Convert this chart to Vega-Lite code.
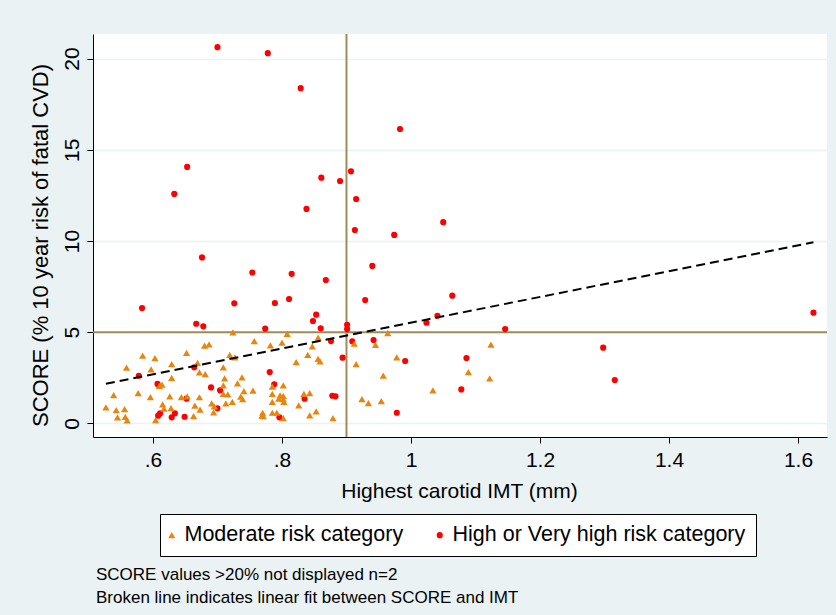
{
  "$schema": "https://vega.github.io/schema/vega-lite/v6.json",
  "width": 734,
  "height": 403,
  "autosize": {"type": "none"},
  "padding": {"left": 93, "top": 34, "right": 9, "bottom": 178},
  "background": "#EAF2F3",
  "config": {
    "view": {"stroke": null, "fill": "white"},
    "font": "Liberation Sans",
    "legend": {
      "orient": "none",
      "legendX": 67,
      "legendY": 480,
      "direction": "horizontal",
      "labelFontSize": 21.5,
      "labelColor": "black",
      "padding": 10,
      "strokeColor": "black",
      "fillColor": "white",
      "columnPadding": 32,
      "labelOffset": 2,
      "symbolOffset": -9,
      "symbolSize": 22,
      "labelLimit": 400
    }
  },
  "title": {
    "text": ["SCORE values >20% not displayed n=2", "Broken line indicates linear fit between SCORE and IMT"],
    "orient": "bottom",
    "anchor": "start",
    "frame": "group",
    "fontSize": 17,
    "fontWeight": "normal",
    "lineHeight": 23,
    "offset": 10,
    "dx": 3,
    "color": "black"
  },
  "datasets": {
    "pts": [
      {"imt": 0.700, "score": 20.63, "group": "High or Very high risk category"},
      {"imt": 0.778, "score": 20.30, "group": "High or Very high risk category"},
      {"imt": 0.829, "score": 18.38, "group": "High or Very high risk category"},
      {"imt": 0.983, "score": 16.14, "group": "High or Very high risk category"},
      {"imt": 0.653, "score": 14.06, "group": "High or Very high risk category"},
      {"imt": 0.633, "score": 12.58, "group": "High or Very high risk category"},
      {"imt": 0.861, "score": 13.47, "group": "High or Very high risk category"},
      {"imt": 0.890, "score": 13.29, "group": "High or Very high risk category"},
      {"imt": 0.907, "score": 13.82, "group": "High or Very high risk category"},
      {"imt": 0.915, "score": 12.30, "group": "High or Very high risk category"},
      {"imt": 0.838, "score": 11.76, "group": "High or Very high risk category"},
      {"imt": 1.050, "score": 11.03, "group": "High or Very high risk category"},
      {"imt": 0.913, "score": 10.60, "group": "High or Very high risk category"},
      {"imt": 0.974, "score": 10.33, "group": "High or Very high risk category"},
      {"imt": 0.676, "score": 9.10, "group": "High or Very high risk category"},
      {"imt": 0.940, "score": 8.63, "group": "High or Very high risk category"},
      {"imt": 0.754, "score": 8.27, "group": "High or Very high risk category"},
      {"imt": 0.815, "score": 8.20, "group": "High or Very high risk category"},
      {"imt": 0.868, "score": 7.86, "group": "High or Very high risk category"},
      {"imt": 1.064, "score": 7.00, "group": "High or Very high risk category"},
      {"imt": 0.929, "score": 6.76, "group": "High or Very high risk category"},
      {"imt": 0.726, "score": 6.58, "group": "High or Very high risk category"},
      {"imt": 0.789, "score": 6.60, "group": "High or Very high risk category"},
      {"imt": 0.811, "score": 6.82, "group": "High or Very high risk category"},
      {"imt": 0.583, "score": 6.32, "group": "High or Very high risk category"},
      {"imt": 0.853, "score": 5.96, "group": "High or Very high risk category"},
      {"imt": 0.848, "score": 5.61, "group": "High or Very high risk category"},
      {"imt": 1.041, "score": 5.90, "group": "High or Very high risk category"},
      {"imt": 1.024, "score": 5.52, "group": "High or Very high risk category"},
      {"imt": 0.667, "score": 5.46, "group": "High or Very high risk category"},
      {"imt": 0.678, "score": 5.32, "group": "High or Very high risk category"},
      {"imt": 0.774, "score": 5.19, "group": "High or Very high risk category"},
      {"imt": 0.860, "score": 5.21, "group": "High or Very high risk category"},
      {"imt": 0.901, "score": 5.40, "group": "High or Very high risk category"},
      {"imt": 0.901, "score": 5.17, "group": "High or Very high risk category"},
      {"imt": 1.146, "score": 5.17, "group": "High or Very high risk category"},
      {"imt": 1.624, "score": 6.07, "group": "High or Very high risk category"},
      {"imt": 0.876, "score": 4.51, "group": "High or Very high risk category"},
      {"imt": 0.909, "score": 4.50, "group": "High or Very high risk category"},
      {"imt": 0.942, "score": 4.57, "group": "High or Very high risk category"},
      {"imt": 0.894, "score": 3.60, "group": "High or Very high risk category"},
      {"imt": 0.991, "score": 3.42, "group": "High or Very high risk category"},
      {"imt": 1.086, "score": 3.58, "group": "High or Very high risk category"},
      {"imt": 1.078, "score": 1.86, "group": "High or Very high risk category"},
      {"imt": 0.978, "score": 0.58, "group": "High or Very high risk category"},
      {"imt": 1.298, "score": 4.15, "group": "High or Very high risk category"},
      {"imt": 1.316, "score": 2.37, "group": "High or Very high risk category"},
      {"imt": 0.664, "score": 3.07, "group": "High or Very high risk category"},
      {"imt": 0.578, "score": 2.61, "group": "High or Very high risk category"},
      {"imt": 0.607, "score": 2.16, "group": "High or Very high risk category"},
      {"imt": 0.690, "score": 1.97, "group": "High or Very high risk category"},
      {"imt": 0.704, "score": 1.81, "group": "High or Very high risk category"},
      {"imt": 0.652, "score": 1.35, "group": "High or Very high risk category"},
      {"imt": 0.700, "score": 0.82, "group": "High or Very high risk category"},
      {"imt": 0.611, "score": 0.55, "group": "High or Very high risk category"},
      {"imt": 0.608, "score": 0.42, "group": "High or Very high risk category"},
      {"imt": 0.634, "score": 0.55, "group": "High or Very high risk category"},
      {"imt": 0.629, "score": 0.33, "group": "High or Very high risk category"},
      {"imt": 0.649, "score": 0.36, "group": "High or Very high risk category"},
      {"imt": 0.781, "score": 2.81, "group": "High or Very high risk category"},
      {"imt": 0.788, "score": 2.14, "group": "High or Very high risk category"},
      {"imt": 0.835, "score": 1.35, "group": "High or Very high risk category"},
      {"imt": 0.878, "score": 1.51, "group": "High or Very high risk category"},
      {"imt": 0.883, "score": 1.48, "group": "High or Very high risk category"},
      {"imt": 0.796, "score": 0.33, "group": "High or Very high risk category"},
      {"imt": 0.527, "score": 0.88, "group": "Moderate risk category"},
      {"imt": 0.543, "score": 0.73, "group": "Moderate risk category"},
      {"imt": 0.556, "score": 0.78, "group": "Moderate risk category"},
      {"imt": 0.545, "score": 0.33, "group": "Moderate risk category"},
      {"imt": 0.557, "score": 0.35, "group": "Moderate risk category"},
      {"imt": 0.560, "score": 0.16, "group": "Moderate risk category"},
      {"imt": 0.539, "score": 1.55, "group": "Moderate risk category"},
      {"imt": 0.559, "score": 3.05, "group": "Moderate risk category"},
      {"imt": 0.584, "score": 3.71, "group": "Moderate risk category"},
      {"imt": 0.603, "score": 3.58, "group": "Moderate risk category"},
      {"imt": 0.577, "score": 1.66, "group": "Moderate risk category"},
      {"imt": 0.596, "score": 1.44, "group": "Moderate risk category"},
      {"imt": 0.597, "score": 2.96, "group": "Moderate risk category"},
      {"imt": 0.629, "score": 3.25, "group": "Moderate risk category"},
      {"imt": 0.629, "score": 2.49, "group": "Moderate risk category"},
      {"imt": 0.610, "score": 2.06, "group": "Moderate risk category"},
      {"imt": 0.614, "score": 2.12, "group": "Moderate risk category"},
      {"imt": 0.626, "score": 1.48, "group": "Moderate risk category"},
      {"imt": 0.615, "score": 1.04, "group": "Moderate risk category"},
      {"imt": 0.617, "score": 0.80, "group": "Moderate risk category"},
      {"imt": 0.628, "score": 0.84, "group": "Moderate risk category"},
      {"imt": 0.604, "score": 0.18, "group": "Moderate risk category"},
      {"imt": 0.644, "score": 1.44, "group": "Moderate risk category"},
      {"imt": 0.653, "score": 1.48, "group": "Moderate risk category"},
      {"imt": 0.672, "score": 1.43, "group": "Moderate risk category"},
      {"imt": 0.665, "score": 0.97, "group": "Moderate risk category"},
      {"imt": 0.673, "score": 0.75, "group": "Moderate risk category"},
      {"imt": 0.663, "score": 0.40, "group": "Moderate risk category"},
      {"imt": 0.652, "score": 3.86, "group": "Moderate risk category"},
      {"imt": 0.669, "score": 3.31, "group": "Moderate risk category"},
      {"imt": 0.672, "score": 2.80, "group": "Moderate risk category"},
      {"imt": 0.681, "score": 2.70, "group": "Moderate risk category"},
      {"imt": 0.680, "score": 4.26, "group": "Moderate risk category"},
      {"imt": 0.687, "score": 4.33, "group": "Moderate risk category"},
      {"imt": 0.691, "score": 1.10, "group": "Moderate risk category"},
      {"imt": 0.695, "score": 0.93, "group": "Moderate risk category"},
      {"imt": 0.694, "score": 0.60, "group": "Moderate risk category"},
      {"imt": 0.724, "score": 4.99, "group": "Moderate risk category"},
      {"imt": 0.808, "score": 4.90, "group": "Moderate risk category"},
      {"imt": 0.757, "score": 4.51, "group": "Moderate risk category"},
      {"imt": 0.782, "score": 4.28, "group": "Moderate risk category"},
      {"imt": 0.800, "score": 4.42, "group": "Moderate risk category"},
      {"imt": 0.856, "score": 4.70, "group": "Moderate risk category"},
      {"imt": 0.847, "score": 4.22, "group": "Moderate risk category"},
      {"imt": 0.719, "score": 3.75, "group": "Moderate risk category"},
      {"imt": 0.727, "score": 3.62, "group": "Moderate risk category"},
      {"imt": 0.709, "score": 3.07, "group": "Moderate risk category"},
      {"imt": 0.822, "score": 3.35, "group": "Moderate risk category"},
      {"imt": 0.840, "score": 3.76, "group": "Moderate risk category"},
      {"imt": 0.856, "score": 3.53, "group": "Moderate risk category"},
      {"imt": 0.859, "score": 3.40, "group": "Moderate risk category"},
      {"imt": 0.711, "score": 2.47, "group": "Moderate risk category"},
      {"imt": 0.738, "score": 2.52, "group": "Moderate risk category"},
      {"imt": 0.731, "score": 2.19, "group": "Moderate risk category"},
      {"imt": 0.709, "score": 2.08, "group": "Moderate risk category"},
      {"imt": 0.741, "score": 1.77, "group": "Moderate risk category"},
      {"imt": 0.755, "score": 1.79, "group": "Moderate risk category"},
      {"imt": 0.785, "score": 2.01, "group": "Moderate risk category"},
      {"imt": 0.802, "score": 2.08, "group": "Moderate risk category"},
      {"imt": 0.709, "score": 1.61, "group": "Moderate risk category"},
      {"imt": 0.716, "score": 1.59, "group": "Moderate risk category"},
      {"imt": 0.736, "score": 1.46, "group": "Moderate risk category"},
      {"imt": 0.739, "score": 1.33, "group": "Moderate risk category"},
      {"imt": 0.723, "score": 1.18, "group": "Moderate risk category"},
      {"imt": 0.713, "score": 1.10, "group": "Moderate risk category"},
      {"imt": 0.785, "score": 1.61, "group": "Moderate risk category"},
      {"imt": 0.797, "score": 1.53, "group": "Moderate risk category"},
      {"imt": 0.802, "score": 1.50, "group": "Moderate risk category"},
      {"imt": 0.802, "score": 1.33, "group": "Moderate risk category"},
      {"imt": 0.803, "score": 1.17, "group": "Moderate risk category"},
      {"imt": 0.795, "score": 1.35, "group": "Moderate risk category"},
      {"imt": 0.785, "score": 1.18, "group": "Moderate risk category"},
      {"imt": 0.834, "score": 1.61, "group": "Moderate risk category"},
      {"imt": 0.843, "score": 1.65, "group": "Moderate risk category"},
      {"imt": 0.826, "score": 0.99, "group": "Moderate risk category"},
      {"imt": 0.770, "score": 0.58, "group": "Moderate risk category"},
      {"imt": 0.769, "score": 0.42, "group": "Moderate risk category"},
      {"imt": 0.771, "score": 0.40, "group": "Moderate risk category"},
      {"imt": 0.785, "score": 0.58, "group": "Moderate risk category"},
      {"imt": 0.792, "score": 0.58, "group": "Moderate risk category"},
      {"imt": 0.802, "score": 0.29, "group": "Moderate risk category"},
      {"imt": 0.853, "score": 0.66, "group": "Moderate risk category"},
      {"imt": 0.843, "score": 0.44, "group": "Moderate risk category"},
      {"imt": 0.879, "score": 0.29, "group": "Moderate risk category"},
      {"imt": 0.964, "score": 4.94, "group": "Moderate risk category"},
      {"imt": 0.912, "score": 4.37, "group": "Moderate risk category"},
      {"imt": 0.945, "score": 4.30, "group": "Moderate risk category"},
      {"imt": 1.124, "score": 4.31, "group": "Moderate risk category"},
      {"imt": 0.915, "score": 3.24, "group": "Moderate risk category"},
      {"imt": 0.978, "score": 3.62, "group": "Moderate risk category"},
      {"imt": 0.957, "score": 2.61, "group": "Moderate risk category"},
      {"imt": 1.089, "score": 2.81, "group": "Moderate risk category"},
      {"imt": 1.122, "score": 2.47, "group": "Moderate risk category"},
      {"imt": 1.034, "score": 1.81, "group": "Moderate risk category"},
      {"imt": 0.924, "score": 1.33, "group": "Moderate risk category"},
      {"imt": 0.934, "score": 1.11, "group": "Moderate risk category"},
      {"imt": 0.954, "score": 1.22, "group": "Moderate risk category"}
    ],
    "fit": [
      {"imt": 0.527, "score": 2.17},
      {"imt": 1.624, "score": 9.93}
    ],
    "refx": [{"imt": 0.9}],
    "refy": [{"score": 5}]
  },
  "encoding": {
    "x": {
      "field": "imt",
      "type": "quantitative",
      "scale": {"domain": [0.507, 1.645], "nice": false, "zero": false},
      "axis": {
        "title": "Highest carotid IMT (mm)",
        "values": [0.6, 0.8, 1, 1.2, 1.4, 1.6],
        "labelExpr": "datum.value == 1 ? '1' : (datum.value < 1 ? replace(format(datum.value, '.1f'), '0.', '.') : format(datum.value, '.1f'))",
        "grid": false,
        "tickSize": 6,
        "tickColor": "black",
        "domainColor": "black",
        "labelFontSize": 21,
        "labelColor": "black",
        "labelPadding": 6,
        "titleFontSize": 21,
        "titleFontWeight": "normal",
        "titleColor": "black",
        "titleX": 366,
        "titleY": 54,
        "titleBaseline": "middle",
        "titleAlign": "center"
      }
    },
    "y": {
      "field": "score",
      "type": "quantitative",
      "scale": {"domain": [-0.75, 21.35], "nice": false, "zero": false},
      "axis": {
        "title": "SCORE (% 10 year risk of fatal CVD)",
        "values": [0, 5, 10, 15, 20],
        "grid": true,
        "gridColor": "#EAF2F3",
        "gridWidth": 1.5,
        "tickSize": 6,
        "tickColor": "black",
        "domainColor": "black",
        "labelFontSize": 21,
        "labelColor": "black",
        "labelAngle": 270,
        "labelAlign": "center",
        "labelBaseline": "alphabetic",
        "labelPadding": 9,
        "titleFontSize": 22,
        "titleFontWeight": "normal",
        "titleColor": "black",
        "titleAngle": 270,
        "titleX": -53,
        "titleY": 211,
        "titleAlign": "center",
        "titleBaseline": "middle"
      }
    }
  },
  "layer": [
    {
      "data": {"name": "refx"},
      "mark": {"type": "rule", "color": "#A08C58", "strokeWidth": 2},
      "encoding": {"y": null}
    },
    {
      "data": {"name": "refy"},
      "mark": {"type": "rule", "color": "#A08C58", "strokeWidth": 2},
      "encoding": {"x": null}
    },
    {
      "data": {"name": "pts"},
      "mark": {"type": "point", "filled": true, "opacity": 1},
      "encoding": {
        "color": {
          "field": "group",
          "type": "nominal",
          "scale": {"domain": ["Moderate risk category", "High or Very high risk category"], "range": ["#E8850C", "#FF0000"]},
          "legend": {"title": null, "encode": {"symbols": {"update": {"size": {"value": 20}}}}}
        },
        "shape": {
          "field": "group",
          "type": "nominal",
          "scale": {"domain": ["Moderate risk category", "High or Very high risk category"], "range": ["triangle-up", "circle"]},
          "legend": {"title": null, "encode": {"symbols": {"update": {"size": {"value": 20}}}}}
        },
        "size": {
          "field": "group",
          "type": "nominal",
          "scale": {"domain": ["Moderate risk category", "High or Very high risk category"], "range": [52, 38]},
          "legend": null
        }
      }
    },
    {
      "data": {"name": "fit"},
      "mark": {"type": "line", "color": "black", "strokeWidth": 2, "strokeDash": [9, 5]},
      "encoding": {}
    }
  ]
}
